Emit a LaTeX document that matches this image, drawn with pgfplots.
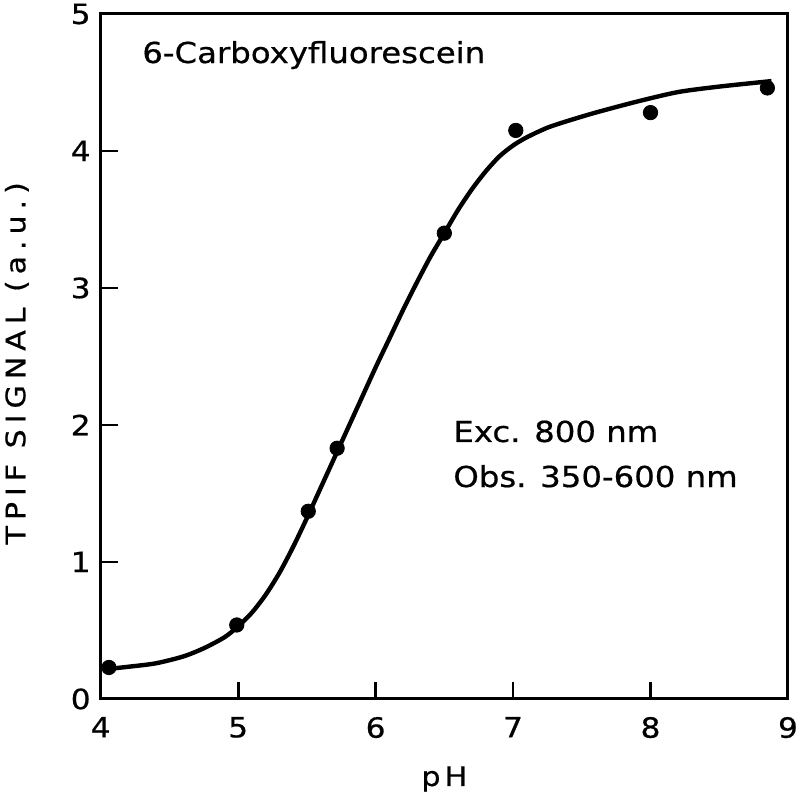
\documentclass[border=0pt]{standalone}
\usepackage{fontspec}
\setmainfont{DejaVu Sans}[FakeStretch=1.12,FakeBold=0.6]
\newfontfamily\ylabfont{DejaVu Sans}[FakeStretch=1.12,FakeBold=0.6,LetterSpace=22]
\newfontfamily\xlabfont{DejaVu Sans}[FakeStretch=1.12,FakeBold=0.6,LetterSpace=15]
\usepackage{pgfplots}
\pgfplotsset{compat=1.18}
\begin{document}
\begin{tikzpicture}
\begin{axis}[
  width=343.65bp, height=342.5bp, scale only axis,
  xmin=4, xmax=9, ymin=0, ymax=5,
  xtick={4,5,6,7,8,9}, ytick={0,1,2,3,4,5},
  xtick pos=bottom, ytick pos=left, tick align=inside,
  major tick length=8.5bp,
  axis line style={line width=1.5bp},
  every tick/.style={line width=1.4bp, black},
  /pgf/number format/assume math mode=true,
  ticklabel style={font=\fontsize{14}{16}\selectfont},
  yticklabel style={xshift=-1.5bp},
  xticklabel style={yshift=-5.5bp},
  xlabel={\xlabfont pH},
  ylabel={\ylabfont TPIF SIGNAL (a.u.)},
  label style={font=\fontsize{13.5}{16}\selectfont},
  xlabel style={at={(axis description cs:0.5,0)}, anchor=center, yshift=-40bp},
  ylabel style={at={(axis description cs:-0.122,0.49)}, anchor=center},
  clip=false,
]
\addplot[black, line width=2.2bp, smooth, tension=0.45, no markers] coordinates {
(4.06,0.22) (4.20,0.235) (4.40,0.26) (4.60,0.31) (4.75,0.37) (4.90,0.45) (5.00,0.53)
(5.10,0.63) (5.20,0.76) (5.30,0.92) (5.40,1.11) (5.50,1.32) (5.60,1.54) (5.70,1.76)
(5.80,1.98) (5.90,2.20) (6.00,2.42) (6.10,2.63) (6.20,2.84) (6.30,3.04) (6.40,3.23)
(6.50,3.40) (6.60,3.57) (6.70,3.72) (6.80,3.85) (6.90,3.96) (7.00,4.04) (7.10,4.10)
(7.25,4.17) (7.40,4.22) (7.60,4.28) (7.90,4.36) (8.20,4.43) (8.50,4.47) (8.88,4.51)
};
\addplot[only marks, mark=*, mark size=3.6bp, black] coordinates {
(4.06,0.23) (4.99,0.54) (5.51,1.37) (5.72,1.83) (6.50,3.40) (7.02,4.15) (8.00,4.28) (8.85,4.46)
};
\node[anchor=base west, inner sep=0, font=\fontsize{14.5}{17}\selectfont] at (axis cs:4.30,4.642) {6-Carboxyfluorescein};
\node[anchor=base west, inner sep=0, font=\fontsize{14.5}{17}\selectfont] at (axis cs:6.563,1.876) {Exc. 800 nm};
\node[anchor=base west, inner sep=0, font=\fontsize{14.5}{17}\selectfont] at (axis cs:6.563,1.547) {Obs. 350-600 nm};
\coordinate (bl) at (rel axis cs:-0.1465,-0.1387);
\coordinate (tr) at (rel axis cs:1.0175,1.0204);
\end{axis}
\pgfresetboundingbox
\useasboundingbox (bl) rectangle (tr);
\end{tikzpicture}
\end{document}
